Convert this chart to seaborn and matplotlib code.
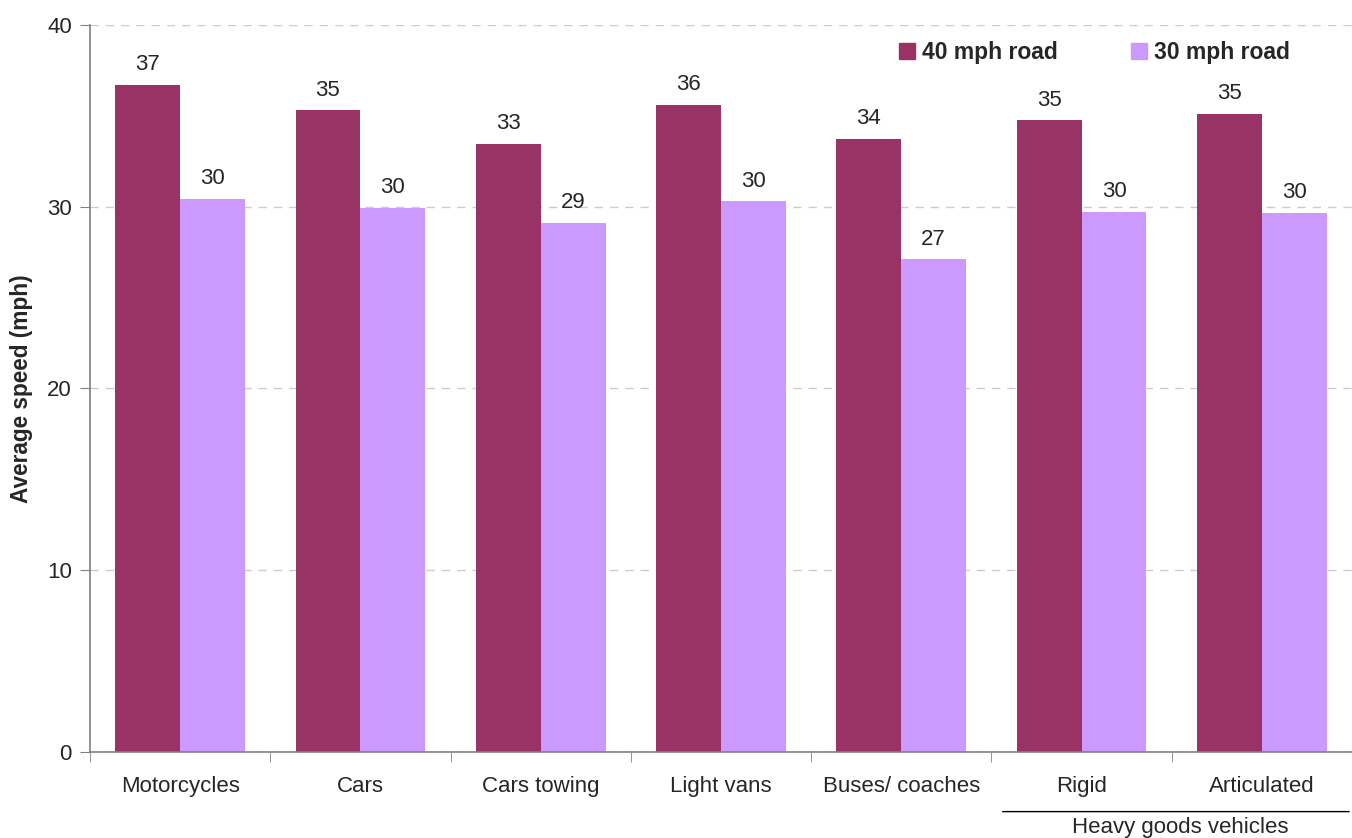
import numpy as np
import pandas as pd
import seaborn as sns
import matplotlib.pyplot as plt
from matplotlib.patches import Patch

# Vehicle types and average speeds (mph)
vehicles = ["Motorcycles", "Cars", "Cars towing", "Light vans", "Buses/ coaches", "Rigid", "Articulated"]
speed_40 = [36.7, 35.3, 33.45, 35.6, 33.75, 34.75, 35.1]
speed_30 = [30.45, 29.95, 29.1, 30.3, 27.1, 29.7, 29.65]
roads = ["40 mph road", "30 mph road"]
colors = ["#993366", "#CC99FF"]

df = pd.DataFrame({
    "vehicle": vehicles * 2,
    "speed": speed_40 + speed_30,
    "road": [roads[0]] * len(vehicles) + [roads[1]] * len(vehicles),
})

sns.set_style("white")
plt.rcParams["font.family"] = ["Liberation Sans", "DejaVu Sans"]

fig = plt.figure(figsize=(13.52, 8.38), dpi=100)
ax = fig.add_axes([90 / 1352, 1 - 752 / 838, 1 - 90 / 1352, (752 - 25) / 838])

sns.barplot(data=df, x="vehicle", y="speed", hue="road", palette=colors,
            width=0.72, saturation=1, linewidth=0, ax=ax, legend=False)

for cont in ax.containers:
    ax.bar_label(cont, labels=[f"{b.get_height():.0f}" for b in cont],
                 padding=7, fontsize=16)

ax.set_xlim(-0.5, len(vehicles) - 0.5)
ax.set_ylim(0, 40)
ax.set_yticks([0, 10, 20, 30, 40])
ax.yaxis.grid(True, linestyle=(0, (6, 5)), color="#cccccc", linewidth=1)
ax.set_axisbelow(True)

ax.set_xlabel("")
ax.set_ylabel("Average speed (mph)", fontsize=16.3, fontweight="bold", labelpad=10)

# ticks: labels centred, tick marks between categories
ax.set_xticks(range(len(vehicles)))
ax.set_xticklabels(vehicles)
ax.set_xticks(np.arange(-0.5, len(vehicles)), minor=True)
ax.tick_params(axis="x", which="major", length=0, pad=17, labelsize=16)
ax.tick_params(axis="x", which="minor", length=7, color="#808080", bottom=True)
ax.tick_params(axis="y", length=7, color="#808080", left=True, labelsize=16, pad=6)

for s in ["top", "right"]:
    ax.spines[s].set_visible(False)
for s in ["left", "bottom"]:
    ax.spines[s].set_color("#808080")
    ax.spines[s].set_linewidth(1.2)

# group label for heavy goods vehicles
ax.annotate("", xy=(1.0, -0.082), xytext=(0.721, -0.082), xycoords="axes fraction",
            arrowprops=dict(arrowstyle="-", color="black", lw=1), annotation_clip=False)
ax.text(5.55, -0.09, "Heavy goods vehicles", transform=ax.get_xaxis_transform(),
        ha="center", va="top", fontsize=16, clip_on=False)

handles = [Patch(color=c, label=r) for c, r in zip(colors, roads)]
ax.legend(handles=handles, ncol=2, frameon=False, loc="upper right",
          bbox_to_anchor=(0.967, 1.006), handlelength=0.7, handleheight=0.7,
          handletextpad=0.3, columnspacing=3.2,
          prop={"size": 16.5, "weight": "bold"})

fig.savefig("out.png", dpi=100)
